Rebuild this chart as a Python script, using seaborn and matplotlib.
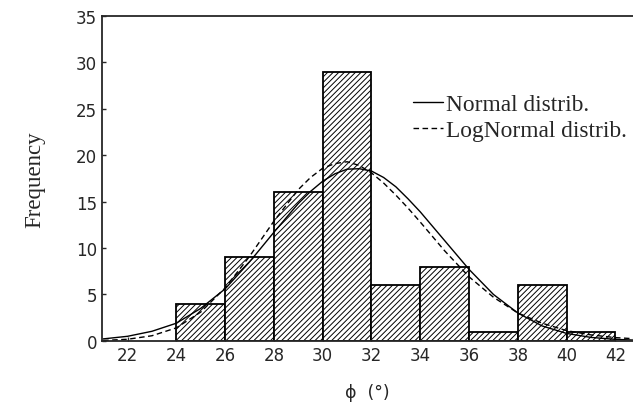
import numpy as np
import pandas as pd
import seaborn as sns
import matplotlib.pyplot as plt

# histogram: bin edges and counts
bin_edges = [24, 26, 28, 30, 32, 34, 36, 38, 40, 42]
counts = [4, 9, 16, 29, 6, 8, 1, 6, 1]

# fitted curves, read along phi
curve_x = [21, 22, 23, 24, 25, 26, 27, 28, 29, 29.5, 30, 30.5, 31, 31.5, 32,
           32.5, 33, 33.5, 34, 35, 36, 37, 38, 39, 40, 41, 42, 43]
normal_y = [0.21, 0.49, 1.03, 1.9, 3.5, 5.6, 8.5, 11.7, 14.8, 16.1, 17.2, 18.0,
            18.5, 18.55, 18.3, 17.6, 16.6, 15.3, 13.9, 10.8, 7.7, 5.0, 3.0, 1.6,
            0.8, 0.37, 0.16, 0.06]
lognormal_y = [0.04, 0.17, 0.55, 1.4, 3.1, 5.7, 9.1, 12.9, 16.3, 17.6, 18.6, 19.1,
               19.3, 18.9, 18.1, 17.0, 15.7, 14.3, 12.8, 9.7, 6.9, 4.7, 3.0, 1.9,
               1.1, 0.64, 0.35, 0.19]

hist_df = pd.DataFrame({
    'phi': [(a + b) / 2 for a, b in zip(bin_edges[:-1], bin_edges[1:])],
    'n': counts,
})
curve_df = pd.DataFrame({'phi': curve_x, 'Normal distrib.': normal_y,
                         'LogNormal distrib.': lognormal_y})

sns.set_style('ticks')
plt.rcParams['hatch.linewidth'] = 0.7
plt.rcParams['font.family'] = ['DejaVu Sans']

fig = plt.figure(figsize=(6.33, 4.06), dpi=100)
ax = fig.add_axes([0.161, 0.158, 0.839, 0.8])

# histogram bars
sns.histplot(data=hist_df, x='phi', weights='n', bins=bin_edges, ax=ax,
             color='white', edgecolor='black', linewidth=1.3, alpha=1)
for p in ax.patches:
    p.set_hatch('//////')
    p.set_facecolor('white')
    p.set_edgecolor('black')

# fitted distributions
sns.lineplot(data=curve_df, x='phi', y='Normal distrib.', ax=ax,
             color='black', lw=1.0, label='Normal distrib.')
sns.lineplot(data=curve_df, x='phi', y='LogNormal distrib.', ax=ax,
             color='black', lw=1.0, linestyle=(0, (4, 2.5)),
             label='LogNormal distrib.')

ax.set_xlim(20.95, 42.72)
ax.set_ylim(0, 35)
ax.set_xticks(range(22, 43, 2))
ax.set_yticks(range(0, 36, 5))
ax.tick_params(direction='in', labelsize=12, length=3, width=1)
for s in ['left', 'bottom', 'top']:
    ax.spines[s].set_linewidth(1.3)
ax.spines['right'].set_visible(False)

ax.set_xlabel('ϕ  (°)', fontsize=12.5, labelpad=14)
ax.set_ylabel('Frequency', fontsize=16.5, family='Liberation Serif', labelpad=22)

leg = ax.legend(loc='upper left', bbox_to_anchor=(0.634, 0.795),
                bbox_transform=fig.transFigure, frameon=False,
                prop={'family': 'Liberation Serif', 'size': 16.8},
                handlelength=1.3, handletextpad=0.1, labelspacing=0.2,
                borderpad=0)

fig.savefig('out.png', dpi=100)
